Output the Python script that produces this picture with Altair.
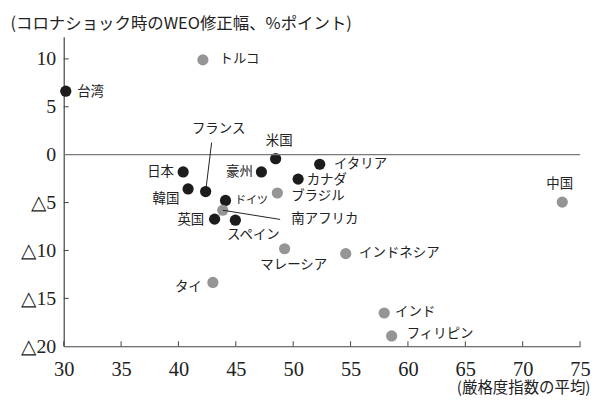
import altair as alt
import pandas as pd

# ---- data ----
names = ["台湾", "トルコ", "米国", "豪州", "日本", "韓国", "フランス", "ドイツ",
         "南アフリカ", "英国", "スペイン", "ブラジル", "カナダ", "イタリア", "中国",
         "マレーシア", "インドネシア", "タイ", "インド", "フィリピン"]
groups = ["先進", "新興", "先進", "先進", "先進", "先進", "先進", "先進",
          "新興", "先進", "先進", "新興", "先進", "先進", "新興",
          "新興", "新興", "新興", "新興", "新興"]
stringency = [30.18, 42.13, 48.47, 47.23, 40.41, 40.84, 42.37, 44.10,
              43.86, 43.15, 44.96, 48.62, 50.43, 52.31, 73.45,
              49.25, 54.58, 43.00, 57.93, 58.58]
revision = [6.63, 9.90, -0.42, -1.80, -1.80, -3.58, -3.85, -4.78,
            -5.80, -6.73, -6.84, -4.00, -2.55, -1.00, -4.95,
            -9.82, -10.33, -13.34, -16.53, -18.92]
label_x = [32.34, 45.32, 48.78, 45.32, 38.44, 38.91, 43.50, 46.36,
           52.76, 41.08, 46.53, 52.15, 52.93, 55.87, 73.22,
           50.05, 59.25, 40.86, 60.63, 62.80]
label_y = [6.52, 9.96, 1.39, -1.81, -1.81, -4.62, 2.70, -4.80,
           -6.69, -6.86, -8.34, -4.28, -2.63, -0.94, -3.08,
           -11.50, -10.30, -13.84, -16.38, -18.73]

leader_names = ["フランス", "南アフリカ"]
leader_end_x = [42.89, 48.86]
leader_end_y = [1.26, -6.76]

x_ticks = [30, 35, 40, 45, 50, 55, 60, 65, 70, 75]
y_ticks = [10, 5, 0, -5, -10, -15, -20]

y_title = "(コロナショック時のWEO修正幅、%ポイント)"
x_title = "(厳格度指数の平均)"

# ---- tables ----
pts = pd.DataFrame({"name": names, "group": groups, "x": stringency,
                    "y": revision, "lx": label_x, "ly": label_y})
lk = dict(zip(names, zip(stringency, revision)))
lines = pd.DataFrame({"name": leader_names,
                      "x": [lk[n][0] for n in leader_names],
                      "y": [lk[n][1] for n in leader_names],
                      "x2": leader_end_x, "y2": leader_end_y})
xt = pd.DataFrame({"t": x_ticks})
yt = pd.DataFrame({"t": [v for v in y_ticks if v not in (0, -20)]})
zero = pd.DataFrame({"y": [0]})

W, H = 519, 311
xs = alt.Scale(domain=[30, 75], nice=False, zero=False)
ys = alt.Scale(domain=[-20, 12.3], nice=False, zero=False)
NUM_FONT = "Liberation Serif"
JP_FONT = "Noto Sans CJK JP"
INK = "#222222"

points = alt.Chart(pts).mark_circle(size=127, opacity=1).encode(
    x=alt.X("x:Q", scale=xs, title=x_title,
            axis=alt.Axis(values=x_ticks, labelFontSize=20.5, labelPadding=13,
                          titleFontSize=15.5, titleAlign="right", titleX=529, titleY=41)),
    y=alt.Y("y:Q", scale=ys, title=y_title,
            axis=alt.Axis(values=y_ticks,
                          labelExpr="datum.value < 0 ? '△' + (-datum.value) : '' + datum.value",
                          labelFontSize=20, labelPadding=8,
                          titleFontSize=16.5, titleAngle=0, titleAlign="left",
                          titleX=-54, titleY=-13)),
    color=alt.Color("group:N", scale=alt.Scale(domain=["先進", "新興"],
                                               range=["#1c1c1c", "#959595"]),
                    legend=None))

zero_line = alt.Chart(zero).mark_rule(color="#7a7a7a", strokeWidth=1.4).encode(
    y=alt.Y("y:Q", scale=ys))

xtick_layer = alt.Chart(xt).mark_rule(color="#444444", strokeWidth=1).encode(
    x=alt.X("t:Q", scale=xs),
    y=alt.value(H), y2=alt.value(H - 5))

ytick_layer = alt.Chart(yt).mark_rule(color="#444444", strokeWidth=1).encode(
    y=alt.Y("t:Q", scale=ys),
    x=alt.value(0), x2=alt.value(5))

leaders = alt.Chart(lines).mark_rule(color=INK, strokeWidth=1).encode(
    x=alt.X("x:Q", scale=xs), y=alt.Y("y:Q", scale=ys),
    x2="x2:Q", y2="y2:Q")

labels = alt.Chart(pts).mark_text(font=JP_FONT, align="center", baseline="middle",
                                  color=INK).encode(
    x=alt.X("lx:Q", scale=xs),
    y=alt.Y("ly:Q", scale=ys),
    text="name:N",
    size=alt.condition(alt.datum.name == "ドイツ", alt.value(11), alt.value(13.5)))

chart = alt.layer(points, zero_line, xtick_layer, ytick_layer, leaders, labels).properties(
    width=W, height=H,
    autosize=alt.AutoSizeParams(type="none"),
    padding={"left": 56, "top": 28, "right": 11, "bottom": 49},
    background="white",
).configure_view(stroke=None).configure_axis(
    grid=False, ticks=False, tickSize=0, labelFlush=False,
    domainColor="#444444", domainWidth=1.2,
    labelFont=NUM_FONT, labelColor=INK,
    titleFont=JP_FONT, titleFontWeight="normal", titleColor=INK,
    titleBaseline="middle",
)

chart.save("out.html", embed_options={"renderer": "svg", "actions": False})
